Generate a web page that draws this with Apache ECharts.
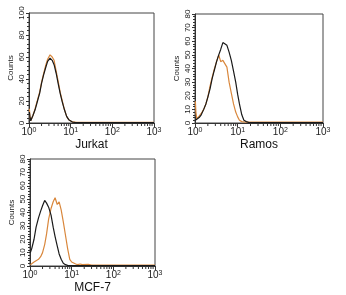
<!DOCTYPE html>
<html>
<head>
<meta charset="utf-8">
<script src="https://cdn.jsdelivr.net/npm/echarts@6/dist/echarts.min.js"></script>
<style>
  html, body { margin: 0; padding: 0; background: #fff; }
  #chart { width: 346px; height: 295px; }
</style>
</head>
<body>
<div id="chart"></div>
<script>
// fluorescence intensity (x) shared by every histogram
const intensity = [1.02, 1.05, 1.1, 1.25, 1.4, 1.6, 1.8, 2.0, 2.25, 2.5, 2.8, 3.2, 3.6, 4.0, 4.5, 5.0, 5.6, 6.3, 7.1, 8.0, 9.0, 10, 11, 12.5, 14, 16, 18, 20, 25, 30, 40, 100, 1000];

const jurkatControl = [10, 6, 2, 7, 12, 20, 27, 36, 44, 50, 56, 59, 57, 53, 45, 36, 27, 19, 12, 6, 3, 1.5, 0.8, 0.5, 0.3, 0.3, 0.3, 0.3, 0.3, 0.3, 0.3, 0.3, 0.3];
const jurkatStain = [13, 7, 2, 7, 13, 21, 28, 37, 45, 52, 58, 62, 60, 57, 47, 38, 28, 20, 12, 6, 3, 1.5, 1, 0.8, 0.6, 0.6, 0.6, 0.6, 0.6, 0.6, 0.6, 0.6, 0.6];

const ramosControl = [2, 2, 2, 4, 6, 10, 14, 19, 25, 32, 38, 45, 50, 54, 59, 60, 57, 52, 46, 38, 30, 21, 14, 6, 2, 1, 0.5, 0.3, 0.3, 0.3, 0.3, 0.3, 0.3];
const ramosStain = [16, 8, 3, 5, 7, 10, 14, 19, 27, 33, 39, 45, 50, 45, 46, 47, 41, 30, 22, 14, 8, 4.5, 2, 1, 0.8, 0.6, 0.6, 0.6, 0.6, 0.6, 0.6, 0.6, 0.6];

const mcf7Control = [10, 11, 13, 20, 29, 36, 41, 45, 49, 47, 44, 38, 29, 22, 15, 9, 5, 2, 1, 0.5, 0.3, 0.3, 0.3, 0.3, 0.3, 0.3, 0.3, 0.3, 0.3, 0.3, 0.3, 0.3, 0.3];
const mcf7Stain = [1, 1, 2, 3, 4, 5, 7, 10, 16, 24, 35, 43, 48, 51, 46, 48, 42, 33, 23, 13, 5, 3, 2, 1.5, 1, 1.5, 1, 1, 1.2, 0.6, 0.6, 0.6, 0.6];

const panelNames = ["Jurkat", "Ramos", "MCF-7"];
const yMax = [100, 80, 80];
const yStep = [20, 10, 10];
const decades = [1, 10, 100, 1000];

const BLACK = "#1a1a1a";
const ORANGE = "#d9873c";

// minor log ticks 2..9 in each decade
const minorTicks = [];
decades.slice(0, 3).forEach((d) => {
  for (let k = 2; k <= 9; k++) minorTicks.push(k * d);
});

const grids = [
  { left: 29, top: 13, width: 125, height: 110 },
  { left: 195, top: 14, width: 128, height: 109 },
  { left: 30, top: 159, width: 125, height: 109 },
];

function pairs(ys) {
  return intensity.map((x, i) => [x, ys[i]]);
}

function renderMinorTick(params, api) {
  const p = api.coord([api.value(0), 0]);
  return {
    type: "line",
    shape: { x1: p[0], y1: p[1], x2: p[0], y2: p[1] + 3 },
    style: { stroke: "#333", lineWidth: 1 },
  };
}

const histos = [
  [jurkatStain, jurkatControl],
  [ramosStain, ramosControl],
  [mcf7Stain, mcf7Control],
];

const option = {
  animation: false,
  grid: grids.map((g) => ({
    ...g,
    show: true,
    borderColor: "#444",
    borderWidth: 1,
    backgroundColor: "#fff",
  })),
  xAxis: panelNames.map((name, i) => ({
    type: "log",
    logBase: 10,
    gridIndex: i,
    min: 1,
    max: 1000,
    name: name,
    nameLocation: "middle",
    nameGap: 16,
    nameTextStyle: { fontSize: 12, color: "#111", fontFamily: "Liberation Sans" },
    axisLine: { lineStyle: { color: "#333", width: 1 } },
    axisTick: { show: true, inside: false, length: 4, lineStyle: { color: "#333" } },
    splitLine: { show: false },
    axisLabel: {
      margin: 4,
      color: "#222",
      fontFamily: "Liberation Sans",
      formatter: (v) => "{b|10}{s|" + Math.round(Math.log10(v)) + "}",
      rich: {
        b: { fontSize: 10, fontFamily: "Liberation Sans", color: "#222" },
        s: { fontSize: 7, fontFamily: "Liberation Sans", color: "#222", verticalAlign: "top" },
      },
    },
  })),
  yAxis: panelNames.map((name, i) => ({
    type: "value",
    gridIndex: i,
    min: 0,
    max: yMax[i],
    interval: yStep[i],
    name: "Counts",
    nameLocation: "middle",
    nameGap: 14,
    nameTextStyle: { fontSize: 8, color: "#222", fontFamily: "Liberation Sans" },
    axisLine: { show: true, lineStyle: { color: "#333", width: 1 } },
    axisTick: { show: true, length: 3, lineStyle: { color: "#333" } },
    minorTick: { show: true, splitNumber: 5, length: 2, lineStyle: { color: "#333" } },
    splitLine: { show: false },
    axisLabel: { rotate: 90, fontSize: 8, margin: 3, color: "#222", fontFamily: "Liberation Sans" },
  })),
  series: [],
};

histos.forEach((h, i) => {
  option.series.push({
    type: "line",
    xAxisIndex: i,
    yAxisIndex: i,
    data: pairs(h[0]),
    showSymbol: false,
    lineStyle: { color: ORANGE, width: 1.2 },
    z: 2,
  });
  option.series.push({
    type: "line",
    xAxisIndex: i,
    yAxisIndex: i,
    data: pairs(h[1]),
    showSymbol: false,
    lineStyle: { color: BLACK, width: 1.2 },
    z: 3,
  });
  option.series.push({
    type: "custom",
    xAxisIndex: i,
    yAxisIndex: i,
    silent: true,
    renderItem: renderMinorTick,
    data: minorTicks.map((v) => [v]),
    encode: { x: 0 },
    z: 4,
  });
});

const myChart = echarts.init(document.getElementById("chart"));
myChart.setOption(option);
</script>
</body>
</html>
